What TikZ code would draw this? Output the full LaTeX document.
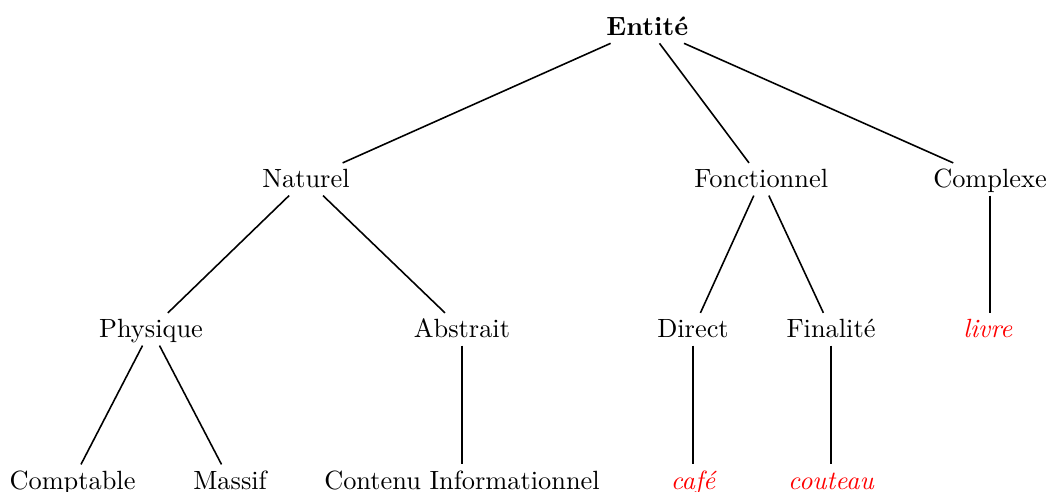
\documentclass[tikz,border=0pt]{standalone}
\usepackage{xcolor}
\usepackage{tikz}
\definecolor{red}{RGB}{255,0,0}

\begin{document}
\begin{tikzpicture}[
    every node/.style={text height=8pt, text depth=1.4pt, inner sep=1.3pt},
    leaf/.style={text=red, font=\itshape},
    link/.style={semithick}
]
    \useasboundingbox (0,0) rectangle (13.96,-6.547);

    % Root
    \node (entite) at (8.63,-0.36) {\textbf{Entité}};

    % Level 1
    \node (naturel) at (4.08,-2.39) {Naturel};
    \node (fonct) at (10.15,-2.39) {Fonctionnel};
    \node (complexe) at (13.2,-2.39) {Complexe};

    % Level 2
    \node (physique) at (2.013,-4.39) {Physique};
    \node (abstrait) at (6.16,-4.39) {Abstrait};
    \node (direct) at (9.24,-4.39) {Direct};
    \node (finalite) at (11.08,-4.39) {Finalité};
    \node[leaf] (livre) at (13.17,-4.39) {livre};

    % Level 3
    \node (comptable) at (0.967,-6.41) {Comptable};
    \node (massif) at (3.067,-6.41) {Massif};
    \node (contenu) at (6.16,-6.41) {Contenu Informationnel};
    \node[leaf] (cafe) at (9.24,-6.41) {café};
    \node[leaf] (couteau) at (11.08,-6.41) {couteau};

    % Links
    \foreach \a/\b in {entite/naturel, entite/fonct, entite/complexe,
                       naturel/physique, naturel/abstrait,
                       fonct/direct, fonct/finalite,
                       physique/comptable, physique/massif, abstrait/contenu,
                       direct/cafe, finalite/couteau} {
        \draw[link] (\a) -- (\b);
    }
    \draw[link] (complexe) -- (complexe |- livre.north);
\end{tikzpicture}
\end{document}
